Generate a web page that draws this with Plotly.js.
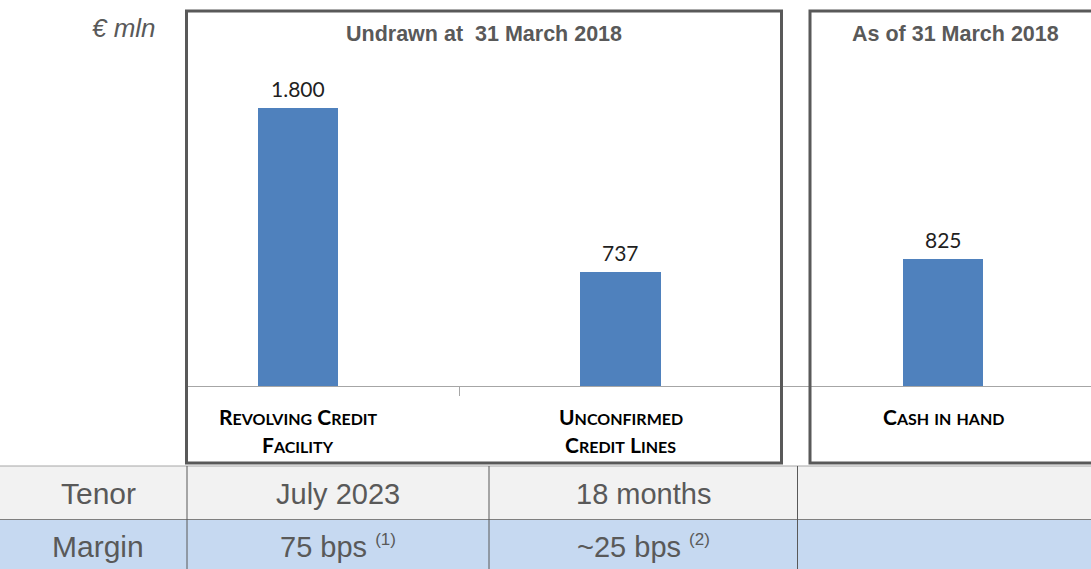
<!DOCTYPE html>
<html>
<head>
<meta charset="utf-8">
<script src="https://cdn.plot.ly/plotly-3.0.1.min.js"></script>
<style>html,body{margin:0;padding:0;background:#fff;}#chart{width:1091px;height:569px;}</style>
</head>
<body>
<div id="chart"></div>
<script>
// ---- data ----
var categories = ['Revolving Credit Facility', 'Unconfirmed Credit Lines', 'Cash in hand'];
var labelLines = [['Revolving Credit', 'Facility'], ['Unconfirmed', 'Credit Lines'], ['Cash in hand']];
var values = [1800, 737, 825];
var groupTitles = ['Undrawn at  31 March 2018', 'As of 31 March 2018'];
var unitLabel = '€ mln';
var rowLabels = ['Tenor', 'Margin'];
var tenorValues = ['July 2023', '18 months', ''];
var marginValues = ['75 bps', '~25 bps', ''];
var marginNotes = ['(1)', '(2)', ''];

// ---- geometry helpers (layout only) ----
var W = 1091, H = 569, L = 185, T = 10, PW = 906, PH = 376;
function px(x) { return (x - L) / PW; }
function py(y) { return (T + PH - y) / PH; }

var grey = '#595959';
var font = 'Lato, "Open Sans", sans-serif';
var arial = '"Liberation Sans", Arial, sans-serif';

function fmt(v) { return String(v).replace(/\B(?=(\d{3})+(?!\d))/g, '.'); }
function smallCaps(s) {
  var out = '';
  for (var i = 0; i < s.length; i++) {
    var c = s[i];
    if (c === ' ') { out += ' '; continue; }
    if (c === c.toUpperCase() && c !== c.toLowerCase()) {
      out += '<span style="font-size:21px">' + c + '</span>';
    } else {
      out += '<span style="font-size:16px">' + c.toUpperCase() + '</span>';
    }
  }
  return out;
}

var trace = {
  type: 'bar',
  x: categories,
  y: values,
  width: 0.25,
  marker: { color: '#4f81bd', line: { width: 0 } },
  hoverinfo: 'none'
};

function paperText(x, y, text, size, extra) {
  var a = { x: px(x), y: py(y), xref: 'paper', yref: 'paper', text: text, showarrow: false,
    xanchor: 'center', yanchor: 'middle', font: { family: arial, size: size, color: grey } };
  if (extra) for (var k in extra) a[k] = extra[k];
  return a;
}

var annotations = [];
// value labels
for (var i = 0; i < categories.length; i++) {
  annotations.push({
    x: categories[i], y: values[i], xref: 'x', yref: 'y',
    text: fmt(values[i]), showarrow: false, xanchor: 'center', yanchor: 'bottom', yshift: 5,
    font: { family: font, size: 21, color: '#1f1f1f' }
  });
}
// category labels
for (var i = 0; i < categories.length; i++) {
  for (var j = 0; j < labelLines[i].length; j++) {
    annotations.push({
      x: categories[i], xref: 'x', y: py(416 + 28 * j), yref: 'paper',
      text: '<b>' + smallCaps(labelLines[i][j]) + '</b>', showarrow: false,
      xanchor: 'center', yanchor: 'middle', font: { family: font, size: 21, color: '#000000' }
    });
  }
}
// group titles
annotations.push(paperText(484, 34, '<b>' + groupTitles[0] + '</b>', 21.5));
annotations.push(paperText(955, 34, '<b>' + groupTitles[1] + '</b>', 21.5));
// unit
annotations.push(paperText(124, 28, '<i>' + unitLabel + '</i>', 26));

// table
var colCenters = [338, 643, 944];
var rowCenters = [494, 546];
annotations.push(paperText(98, rowCenters[0], rowLabels[0], 30));
annotations.push(paperText(98, rowCenters[1], rowLabels[1], 30));
for (var k = 0; k < tenorValues.length; k++) {
  if (tenorValues[k]) annotations.push(paperText(colCenters[k], rowCenters[0], tenorValues[k], 29));
  if (marginValues[k]) annotations.push(paperText(colCenters[k], rowCenters[1],
    marginValues[k] + ' <sup><span style="font-size:17px">' + marginNotes[k] + '</span></sup>', 29));
}

var shapes = [
  // table backgrounds
  { type: 'rect', xref: 'paper', yref: 'paper', x0: px(0), x1: px(1091), y0: py(466), y1: py(519.5), fillcolor: '#f2f2f2', line: { width: 0 }, layer: 'below' },
  { type: 'rect', xref: 'paper', yref: 'paper', x0: px(0), x1: px(1091), y0: py(519.5), y1: py(569), fillcolor: '#c6d9f1', line: { width: 0 }, layer: 'below' },
  { type: 'line', xref: 'paper', yref: 'paper', x0: px(0), x1: px(1091), y0: py(466), y1: py(466), line: { color: '#a6a6a6', width: 1 } },
  { type: 'line', xref: 'paper', yref: 'paper', x0: px(0), x1: px(1091), y0: py(519.5), y1: py(519.5), line: { color: '#7f7f7f', width: 1 } },
  { type: 'line', xref: 'paper', yref: 'paper', x0: px(187), x1: px(187), y0: py(466), y1: py(569), line: { color: '#595959', width: 1 } },
  { type: 'line', xref: 'paper', yref: 'paper', x0: px(489), x1: px(489), y0: py(466), y1: py(569), line: { color: '#595959', width: 1 } },
  { type: 'line', xref: 'paper', yref: 'paper', x0: px(797.5), x1: px(797.5), y0: py(466), y1: py(569), line: { color: '#595959', width: 1 } },
  // group boxes
  { type: 'rect', xref: 'paper', yref: 'paper', x0: px(186.5), x1: px(781.5), y0: py(463), y1: py(11), line: { color: '#595959', width: 3 }, fillcolor: 'rgba(0,0,0,0)' },
  { type: 'rect', xref: 'paper', yref: 'paper', x0: px(810), x1: px(1096), y0: py(463), y1: py(11), line: { color: '#595959', width: 3 }, fillcolor: 'rgba(0,0,0,0)' }
];

var layout = {
  width: W, height: H,
  margin: { l: L, r: W - L - PW, t: T, b: H - T - PH, pad: 0 },
  paper_bgcolor: '#ffffff', plot_bgcolor: 'rgba(0,0,0,0)',
  showlegend: false,
  bargap: 0,
  xaxis: {
    type: 'category', categoryorder: 'array', categoryarray: categories,
    range: [(L - 298) / 322.5, (L + PW - 298) / 322.5],
    showline: true, linecolor: '#a6a6a6', linewidth: 1,
    ticks: 'outside', tickson: 'boundaries', ticklen: 9, tickcolor: '#a6a6a6', tickwidth: 1,
    showticklabels: false, showgrid: false, zeroline: false, fixedrange: true
  },
  yaxis: {
    range: [0, 1800 * PH / 278], visible: false, showgrid: false, zeroline: false, fixedrange: true
  },
  annotations: annotations,
  shapes: shapes
};

Plotly.newPlot('chart', [trace], layout, { displayModeBar: false, staticPlot: true });
</script>
</body>
</html>
